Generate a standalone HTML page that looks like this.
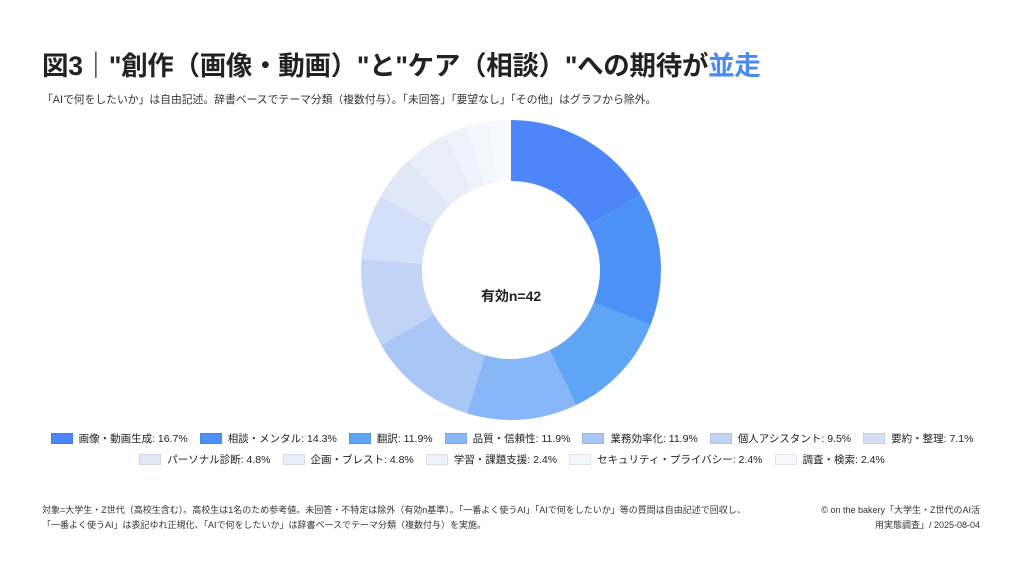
<!DOCTYPE html>
<html><head><meta charset="utf-8">
<style>
body{margin:0;width:1024px;height:576px;background:#fff;font-family:"Liberation Sans","Noto Sans CJK JP",sans-serif;color:#222;position:relative;overflow:hidden}
#title{position:absolute;left:42px;top:44px;font-size:26.5px;font-weight:bold;letter-spacing:-0.3px;white-space:nowrap;color:#222}
#title span{color:#4a8af4}
#sub{position:absolute;left:42px;top:91px;font-size:10.8px;color:#333;white-space:nowrap}
#chart{position:absolute;left:0;top:0}
.legend{position:absolute;left:0;width:1024px;display:flex;justify-content:center;font-size:10.5px;color:#222;white-space:nowrap}
.li{display:flex;align-items:center;margin:0 6px}
.sw{width:22px;height:11px;margin-right:6px;box-sizing:border-box;border:1px solid rgba(0,0,0,0.08)}
#foot{position:absolute;left:42px;top:503px;font-size:9px;line-height:15px;color:#333;width:716px}
#credit{position:absolute;right:44px;top:503px;font-size:9px;line-height:15px;color:#333;text-align:right;width:166px}
</style></head><body>
<div id="title">図3｜"創作（画像・動画）"と"ケア（相談）"への期待が<span>並走</span></div>
<div id="sub">「AIで何をしたいか」は自由記述。辞書ベースでテーマ分類（複数付与）。「未回答」「要望なし」「その他」はグラフから除外。</div>
<svg id="chart" width="1024" height="576"></svg>
<div class="legend" id="leg1" style="top:431px"></div>
<div class="legend" id="leg2" style="top:452px"></div>
<div id="foot">対象=大学生・Z世代（高校生含む）。高校生は1名のため参考値。未回答・不特定は除外（有効n基準）。「一番よく使うAI」「AIで何をしたいか」等の質問は自由記述で回収し、「一番よく使うAI」は表記ゆれ正規化、「AIで何をしたいか」は辞書ベースでテーマ分類（複数付与）を実施。</div>
<div id="credit">© on the bakery「大学生・Z世代のAI活用実態調査」/ 2025-08-04</div>
<script>
const categories=["画像・動画生成","相談・メンタル","翻訳","品質・信頼性","業務効率化","個人アシスタント","要約・整理","パーソナル診断","企画・ブレスト","学習・課題支援","セキュリティ・プライバシー","調査・検索"];
const values=[16.7,14.3,11.9,11.9,11.9,9.5,7.1,4.8,4.8,2.4,2.4,2.4];
const colors=["#4d86f8","#4c91f5","#5ea5f6","#88b7f7","#a8c7f6","#c2d4f5","#d3e0f7","#e0e8f8","#e8eef9","#eef2fb","#f3f6fc","#f8f9fd"];
const centerLabel="有効n=42";
const svg=document.getElementById('chart');
const NS="http://www.w3.org/2000/svg";
const cx=511,cy=270,R=150,r=89;
const total=values.reduce((a,b)=>a+b,0);
let a0=-Math.PI/2;
function pt(rad,a){return [cx+rad*Math.cos(a),cy+rad*Math.sin(a)];}
values.forEach((v,i)=>{
  const a1=a0+v/total*2*Math.PI;
  const large=(a1-a0)>Math.PI?1:0;
  const [x0,y0]=pt(R,a0),[x1,y1]=pt(R,a1),[x2,y2]=pt(r,a1),[x3,y3]=pt(r,a0);
  const p=document.createElementNS(NS,'path');
  p.setAttribute('d',`M${x0},${y0}A${R},${R} 0 ${large} 1 ${x1},${y1}L${x2},${y2}A${r},${r} 0 ${large} 0 ${x3},${y3}Z`);
  p.setAttribute('fill',colors[i]);
  
  
  svg.appendChild(p);
  a0=a1;
});
const t=document.createElementNS(NS,'text');
t.setAttribute('x',cx);t.setAttribute('y',cy+31);t.setAttribute('text-anchor','middle');
t.setAttribute('font-size','14');t.setAttribute('font-weight','bold');t.setAttribute('fill','#222');
t.setAttribute('font-family','"Liberation Sans","Noto Sans CJK JP",sans-serif');
t.textContent=centerLabel;


svg.appendChild(t);
categories.forEach((c,i)=>{
  const d=document.createElement('div');d.className='li';
  
  
  d.innerHTML=`<div class="sw" style="background:${colors[i]}"></div>${c}: ${values[i]}%`;
  document.getElementById(i<7?'leg1':'leg2').appendChild(d);
});
</script>
</body></html>
